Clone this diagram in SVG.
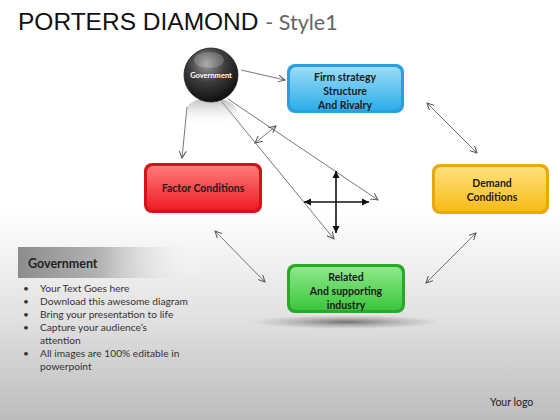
<svg xmlns="http://www.w3.org/2000/svg" width="560" height="420" viewBox="0 0 560 420">
<defs>
<linearGradient id="bg" x1="0" y1="0" x2="0" y2="1">
<stop offset="0" stop-color="#ffffff"/>
<stop offset="0.5" stop-color="#ffffff"/>
<stop offset="0.75" stop-color="#e2e2e2"/>
<stop offset="1" stop-color="#bcbcbc"/>
</linearGradient>
<linearGradient id="hdr" x1="0" y1="0" x2="1" y2="0">
<stop offset="0" stop-color="#8c8c8c"/>
<stop offset="0.45" stop-color="#b4b4b4"/>
<stop offset="1" stop-color="#ffffff" stop-opacity="0"/>
</linearGradient>
<radialGradient id="sph" cx="0.42" cy="0.3" r="0.75">
<stop offset="0" stop-color="#9a9a9a"/>
<stop offset="0.45" stop-color="#3c3c3c"/>
<stop offset="1" stop-color="#0a0a0a"/>
</radialGradient>
<linearGradient id="refl" x1="0" y1="0" x2="0" y2="1">
<stop offset="0" stop-color="#8a8a8a" stop-opacity="0.6"/>
<stop offset="1" stop-color="#ffffff" stop-opacity="0"/>
</linearGradient>
<radialGradient id="shadow" cx="0.5" cy="0.5" r="0.5">
<stop offset="0" stop-color="#555" stop-opacity="0.8"/>
<stop offset="1" stop-color="#888" stop-opacity="0"/>
</radialGradient>
<linearGradient id="gBlue" x1="0" y1="0" x2="0" y2="1"><stop offset="0" stop-color="#9adcf8"/><stop offset="1" stop-color="#2eaee8"/></linearGradient>
<linearGradient id="gRed" x1="0" y1="0" x2="0" y2="1"><stop offset="0" stop-color="#ff7a7a"/><stop offset="1" stop-color="#ee1c24"/></linearGradient>
<linearGradient id="gYel" x1="0" y1="0" x2="0" y2="1"><stop offset="0" stop-color="#ffe27a"/><stop offset="1" stop-color="#f7bb1a"/></linearGradient>
<linearGradient id="gGrn" x1="0" y1="0" x2="0" y2="1"><stop offset="0" stop-color="#8ee88a"/><stop offset="1" stop-color="#3cc63c"/></linearGradient>
<marker id="open" viewBox="0 0 8 8" refX="7" refY="4" markerWidth="8" markerHeight="8" markerUnits="userSpaceOnUse" orient="auto-start-reverse">
<path d="M0,0.5 L7,4 L0,7.5" fill="none" stroke="#555" stroke-width="1"/>
</marker>
<marker id="solid" viewBox="0 0 8 8" refX="7" refY="4" markerWidth="8" markerHeight="8" markerUnits="userSpaceOnUse" orient="auto-start-reverse">
<path d="M0,0.5 L7,4 L0,7.5 z" fill="#111"/>
</marker>
<style>
.t{font-family:Lato,"Liberation Sans",sans-serif;font-weight:bold;font-size:10.5px;fill:#1a1a1a;text-anchor:middle}
.b{font-family:Lato,"Liberation Sans",sans-serif;font-size:10.2px;fill:#333}
.c{fill:none;stroke:#666;stroke-width:0.9}
.k{fill:none;stroke:#111;stroke-width:1.6}
</style>
</defs>
<rect x="0" y="0" width="560" height="420" fill="url(#bg)"/>
<text x="18" y="30" font-family="Liberation Sans,Arial,sans-serif" font-size="24.5" fill="#111">PORTERS DIAMOND <tspan font-family="Lato,Liberation Sans,sans-serif" font-size="21.5" fill="#666">- Style1</tspan></text>

<g id="connectors">
<line class="c" x1="241" y1="70" x2="285" y2="80" marker-end="url(#open)"/>
<line class="c" x1="187" y1="107" x2="182" y2="158" marker-end="url(#open)"/>
<line class="c" x1="222" y1="102" x2="334" y2="239" marker-end="url(#open)"/>
<line class="c" x1="228" y1="99" x2="378" y2="200" marker-end="url(#open)"/>
<line class="c" x1="255" y1="143" x2="276" y2="126" marker-start="url(#open)" marker-end="url(#open)"/>
<line class="k" x1="336" y1="171" x2="336" y2="233" marker-start="url(#solid)" marker-end="url(#solid)"/>
<line class="k" x1="304" y1="202" x2="369" y2="202" marker-start="url(#solid)" marker-end="url(#solid)"/>
<line class="c" x1="427" y1="103" x2="477" y2="153" marker-start="url(#open)" marker-end="url(#open)"/>
<line class="c" x1="476" y1="233" x2="426" y2="283" marker-start="url(#open)" marker-end="url(#open)"/>
<line class="c" x1="215" y1="231" x2="265" y2="282" marker-start="url(#open)" marker-end="url(#open)"/>
</g>

<g id="government">
<ellipse cx="211" cy="112" rx="26" ry="14" fill="url(#refl)"/>
<circle cx="211" cy="75" r="27" fill="url(#sph)" stroke="#222" stroke-width="0.8"/>
<ellipse cx="209" cy="60" rx="15" ry="8" fill="#fff" opacity="0.18"/>
<text x="211" y="78" font-family="Lato,Liberation Sans,sans-serif" font-weight="bold" font-size="7.5" fill="#fff" text-anchor="middle">Government</text>
</g>

<g id="firm">
<rect x="287" y="64" width="117" height="49" rx="8" fill="#2a9fdc"/>
<rect x="290" y="67" width="111" height="43" rx="6" fill="url(#gBlue)"/>
<text class="t" x="345" y="81">Firm strategy</text>
<text class="t" x="345" y="95">Structure</text>
<text class="t" x="345" y="109">And Rivalry</text>
</g>

<g id="factor">
<rect x="144" y="163" width="118" height="50" rx="8" fill="#d4121a"/>
<rect x="147" y="166" width="112" height="44" rx="6" fill="url(#gRed)"/>
<text class="t" x="203" y="192">Factor Conditions</text>
</g>

<g id="demand">
<rect x="432" y="164" width="117" height="50" rx="8" fill="#e8a810"/>
<rect x="435" y="167" width="111" height="44" rx="6" fill="url(#gYel)"/>
<text class="t" x="492" y="187">Demand</text>
<text class="t" x="492" y="201">Conditions</text>
</g>

<g id="related">
<ellipse cx="346" cy="322" rx="95" ry="7" fill="url(#shadow)"/>
<rect x="287" y="264" width="118" height="49" rx="8" fill="#2aa82a"/>
<rect x="290" y="267" width="112" height="43" rx="6" fill="url(#gGrn)"/>
<text class="t" x="346" y="281">Related</text>
<text class="t" x="346" y="295">And supporting</text>
<text class="t" x="346" y="309">industry</text>
</g>

<g id="panel">
<rect x="18" y="247" width="185" height="31" fill="url(#hdr)"/>
<text x="28" y="268" font-family="Lato,Liberation Sans,sans-serif" font-weight="bold" font-size="12.5" fill="#222">Government</text>
<g class="b">
<text x="23" y="292">•</text><text x="40" y="292">Your Text Goes here</text>
<text x="23" y="305">•</text><text x="40" y="305">Download this awesome diagram</text>
<text x="23" y="318">•</text><text x="40" y="318">Bring your presentation to life</text>
<text x="23" y="331">•</text><text x="40" y="331">Capture your audience’s</text>
<text x="40" y="344">attention</text>
<text x="23" y="357">•</text><text x="40" y="357">All images are 100% editable in</text>
<text x="40" y="370">powerpoint</text>
</g>
</g>

<text x="490" y="406" font-family="Lato,Liberation Sans,sans-serif" font-size="10.5" fill="#222">Your logo</text>
</svg>
